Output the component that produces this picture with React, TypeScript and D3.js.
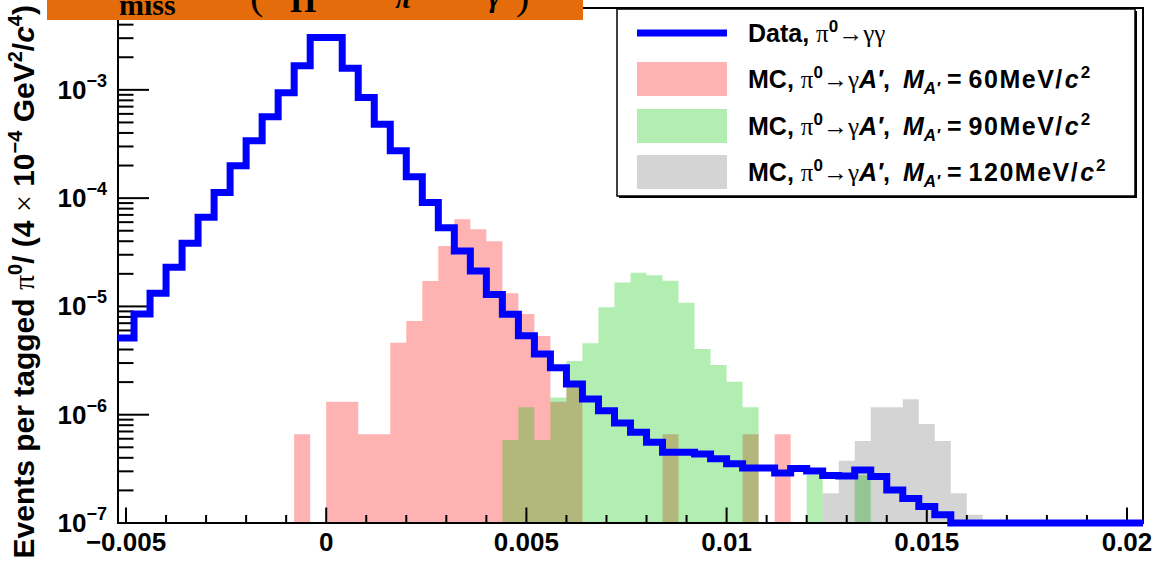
import React from "react";
import * as d3 from "d3";

// ---------- data ----------
const X_LOW = -0.0052;
const BIN_WIDTH = 0.0004;
const N_BINS = 64;
const Y_MIN = 1e-7;
const Y_MAX = 5.7e-3;

// Data, pi0 -> gamma gamma (bins 0..63)
const dataValues = [
  5.1e-6, 8.5e-6, 1.32e-5, 2.3e-5, 3.83e-5, 6.65e-5, 1.13e-4, 1.99e-4, 3.39e-4, 5.65e-4,
  9.4e-4, 1.67e-3, 3.05e-3, 3.05e-3, 1.58e-3, 8.5e-4, 4.8e-4, 2.74e-4, 1.58e-4, 9.1e-5,
  5.33e-5, 3.25e-5, 2.12e-5, 1.29e-5, 8.45e-6, 5.37e-6, 3.63e-6, 2.72e-6, 1.92e-6, 1.4e-6,
  1.09e-6, 8.4e-7, 6.88e-7, 5.56e-7, 4.5e-7, 4.5e-7, 4.34e-7, 3.92e-7, 3.53e-7, 3.22e-7,
  3.22e-7, 2.89e-7, 3.18e-7, 3.02e-7, 2.75e-7, 2.72e-7, 3.09e-7, 2.69e-7, 2.02e-7, 1.68e-7,
  1.42e-7, 1.19e-7, 0, 0, 0, 0, 0, 0, 0, 0, 0, 0, 0, 0,
];

// MC, M_A' = 60 MeV/c^2 (first bin 11)
const mc60Start = 11;
const mc60Values = [
  6.6e-7, 0, 1.32e-6, 1.32e-6, 6.6e-7, 6.6e-7, 4.62e-6, 7.33e-6, 1.72e-5, 3.61e-5,
  6.37e-5, 5.15e-5, 3.99e-5, 1.32e-5, 8.5e-6, 5.33e-6, 1.32e-6, 1.8e-6, 0, 0,
  0, 0, 0, 6.6e-7, 0, 0, 0, 0, 6.6e-7, 0, 6.6e-7,
];

// MC, M_A' = 90 MeV/c^2 (first bin 24)
const mc90Start = 24;
const mc90Values = [
  5.84e-7, 1.17e-6, 5.84e-7, 1.44e-6, 3.13e-6, 4.56e-6, 9.82e-6, 1.66e-5, 2.05e-5, 1.94e-5,
  1.73e-5, 1.08e-5, 4.04e-6, 2.88e-6, 2.02e-6, 1.17e-6, 0, 0, 0, 2.77e-7, 0, 0, 2.77e-7,
];

// MC, M_A' = 120 MeV/c^2 (first bin 44)
const mc120Start = 44;
const mc120Values = [1.88e-7, 3.76e-7, 5.72e-7, 1.17e-6, 1.17e-6, 1.39e-6, 8.2e-7, 5.72e-7, 1.88e-7, 1.19e-7];

const xTickValues = [-0.005, 0, 0.005, 0.01, 0.015, 0.02];
const xTickLabels = ["\u22120.005", "0", "0.005", "0.01", "0.015", "0.02"];
const yTickExponents = [-7, -6, -5, -4, -3];
const legendMasses = ["60", "90", "120"];

// ---------- layout ----------
const W = 1163;
const H = 562;
const F = { left: 118, right: 1143, top: 8, bottom: 523 };
const SANS = "'Liberation Sans', Arial, Helvetica, sans-serif";
const SERIF = "'Liberation Serif', 'Times New Roman', serif";

const x = d3.scaleLinear().domain([X_LOW, X_LOW + N_BINS * BIN_WIDTH]).range([F.left, F.right]);
const y = d3.scaleLog().domain([Y_MIN, Y_MAX]).range([F.bottom, F.top]);

function stepPoints(start: number, values: number[]): [number, number][] {
  const pts: [number, number][] = [];
  values.forEach((v, k) => {
    const x0 = X_LOW + (start + k) * BIN_WIDTH;
    const x1 = x0 + BIN_WIDTH;
    const vv = v > Y_MIN ? v : Y_MIN;
    pts.push([x0, vv], [x1, vv]);
  });
  return pts;
}

const areaGen = d3
  .area<[number, number]>()
  .x((d) => x(d[0]))
  .y0(F.bottom)
  .y1((d) => y(d[1]));
const lineGen = d3
  .line<[number, number]>()
  .x((d) => x(d[0]))
  .y((d) => y(d[1]));

const xMinor = d3.range(-5, 21).map((k) => k * 0.001).filter((v) => Math.abs(Math.round(v * 1000) % 5) !== 0);
const yMinor: number[] = [];
yTickExponents.forEach((e) => {
  for (let m = 2; m <= 9; m++) {
    const v = m * Math.pow(10, e);
    if (v < Y_MAX) yMinor.push(v);
  }
});

const series = [
  { start: mc60Start, values: mc60Values, fill: "rgb(255,0,0)", op: 0.3 },
  { start: mc90Start, values: mc90Values, fill: "rgb(0,200,0)", op: 0.3 },
  { start: mc120Start, values: mc120Values, fill: "rgb(0,0,0)", op: 0.17 },
];

const LEG = { x: 617, y: 9, w: 518, h: 187 };
const legRows = [33, 79, 126, 172];
const LFS = 25;
const SYM = 25;
const SUP = 17;

function McLabel({ yy, mass }: { yy: number; mass: string }) {
  return (
    <text x={748} y={yy + 9} fontFamily={SANS} fontWeight="bold" fontSize={LFS} fill="#000">
      <tspan>MC, </tspan>
      <tspan fontFamily={SERIF} fontWeight="normal" fontSize={SYM}>π</tspan>
      <tspan fontSize={SUP} dy={-10}>0</tspan>
      <tspan fontFamily={SERIF} fontWeight="normal" fontSize={SYM} dy={10}>→γ</tspan>
      <tspan fontStyle="italic">A′</tspan>
      <tspan>, </tspan>
      <tspan fontStyle="italic" dx={6}>M</tspan>
      <tspan fontStyle="italic" fontSize={SUP} dy={6}>A′</tspan>
      <tspan dy={-6}> = </tspan>
      <tspan letterSpacing={1.5}>{mass}MeV/</tspan>
      <tspan fontStyle="italic" dx={1}>c</tspan>
      <tspan fontSize={SUP} dy={-10} dx={2}>2</tspan>
    </text>
  );
}

export default function App() {
  const yBottom = y(Y_MIN);
  return (
    <svg
      width={W}
      height={H}
      viewBox={`0 0 ${W} ${H}`}
      style={{ position: "absolute", left: 0, top: 0, background: "#fff" }}
    >
      <rect x={0} y={0} width={W} height={H} fill="#fff" />
      <defs>
        <clipPath id="frameClip">
          <rect x={F.left} y={F.top} width={F.right - F.left} height={F.bottom - F.top} />
        </clipPath>
      </defs>

      {/* MC filled histograms */}
      <g clipPath="url(#frameClip)">
        {series.map((s, i) => (
          <path key={i} d={areaGen(stepPoints(s.start, s.values)) || ""} fill={s.fill} fillOpacity={s.op} stroke="none" />
        ))}
      </g>

      {/* frame */}
      <rect x={F.left} y={F.top} width={F.right - F.left} height={F.bottom - F.top} fill="none" stroke="#000" strokeWidth={2} />

      {/* x ticks */}
      {xTickValues.map((v) => (
        <line key={"xM" + v} x1={x(v)} x2={x(v)} y1={yBottom} y2={yBottom - 15.5} stroke="#000" strokeWidth={2} />
      ))}
      {xMinor.map((v) => (
        <line key={"xm" + v} x1={x(v)} x2={x(v)} y1={yBottom} y2={yBottom - 8} stroke="#000" strokeWidth={2} />
      ))}
      {xTickValues.map((v, i) => (
        <text key={"xl" + v} x={x(v)} y={551} textAnchor="middle" fontFamily={SANS} fontWeight="bold" fontSize={26} fill="#000">
          {xTickLabels[i]}
        </text>
      ))}

      {/* y ticks */}
      {yTickExponents.map((e) => (
        <line key={"yM" + e} x1={F.left} x2={F.left + 31} y1={y(Math.pow(10, e))} y2={y(Math.pow(10, e))} stroke="#000" strokeWidth={2} />
      ))}
      {yMinor.map((v) => (
        <line key={"ym" + v} x1={F.left} x2={F.left + 15.5} y1={y(v)} y2={y(v)} stroke="#000" strokeWidth={2} />
      ))}
      {yTickExponents.map((e) => (
        <text key={"yl" + e} x={107} y={y(Math.pow(10, e)) + 9} textAnchor="end" fontFamily={SANS} fontWeight="bold" fontSize={26} fill="#000">
          <tspan>10</tspan>
          <tspan fontSize={18} dy={-12}>{"\u2212" + Math.abs(e)}</tspan>
        </text>
      ))}

      {/* y title */}
      <text transform="translate(34,5) rotate(-90)" textAnchor="end" fontFamily={SANS} fontWeight="bold" fontSize={30} fill="#000">
        <tspan>Events per tagged </tspan>
        <tspan fontFamily={SERIF} fontWeight="normal">π</tspan>
        <tspan fontSize={20} dy={-12}>0</tspan>
        <tspan dy={12}>/ (4 </tspan>
        <tspan fontFamily={SERIF} fontWeight="normal">×</tspan>
        <tspan> 10</tspan>
        <tspan fontSize={20} dy={-12}>−4</tspan>
        <tspan dy={12}> GeV</tspan>
        <tspan fontSize={20} dy={-12}>2</tspan>
        <tspan dy={12}>/</tspan>
        <tspan fontStyle="italic">c</tspan>
        <tspan fontSize={20} dy={-12}>4</tspan>
        <tspan dy={12}>)</tspan>
      </text>

      {/* data histogram line */}
      <path
        d={lineGen(stepPoints(0, dataValues)) || ""}
        fill="none"
        stroke="#0000ff"
        strokeWidth={7}
        strokeLinejoin="miter"
        strokeLinecap="butt"
      />

      {/* legend */}
      <rect x={LEG.x + 2} y={LEG.y + 2} width={LEG.w} height={LEG.h} fill="#000" />
      <rect x={LEG.x} y={LEG.y} width={LEG.w} height={LEG.h} fill="#fff" stroke="#000" strokeWidth={1.5} />
      <line x1={637} x2={727} y1={legRows[0]} y2={legRows[0]} stroke="#0000ff" strokeWidth={7} />
      <text x={748} y={legRows[0] + 9} fontFamily={SANS} fontWeight="bold" fontSize={LFS} fill="#000">
        <tspan>Data, </tspan>
        <tspan fontFamily={SERIF} fontWeight="normal" fontSize={SYM}>π</tspan>
        <tspan fontSize={SUP} dy={-10}>0</tspan>
        <tspan fontFamily={SERIF} fontWeight="normal" fontSize={SYM} dy={10}>→γγ</tspan>
      </text>
      {series.map((s, i) => (
        <g key={"leg" + i}>
          <rect x={637} y={legRows[i + 1] - 17} width={90} height={34} fill={s.fill} fillOpacity={s.op} />
          <McLabel yy={legRows[i + 1]} mass={legendMasses[i]} />
        </g>
      ))}

      {/* orange overlay with clipped formula */}
      <defs>
        <clipPath id="orangeClip">
          <rect x={47} y={0} width={536} height={20} />
        </clipPath>
      </defs>
      <rect x={47} y={0} width={536} height={20} fill="#e46c0a" />
      <g clipPath="url(#orangeClip)" fontFamily={SERIF} fontWeight="bold" fill="#000">
        <text x={119} y={15} fontSize={30}>miss</text>
        <text x={250} y={9} fontSize={40} fontWeight="normal">(</text>
        <text x={290} y={12} fontSize={34}>Π</text>
        <text x={395} y={8} fontSize={30} fontStyle="italic">π</text>
        <text x={488} y={7} fontSize={30} fontStyle="italic">γ</text>
        <text x={516} y={9} fontSize={40} fontWeight="normal">)</text>
      </g>
    </svg>
  );
}
